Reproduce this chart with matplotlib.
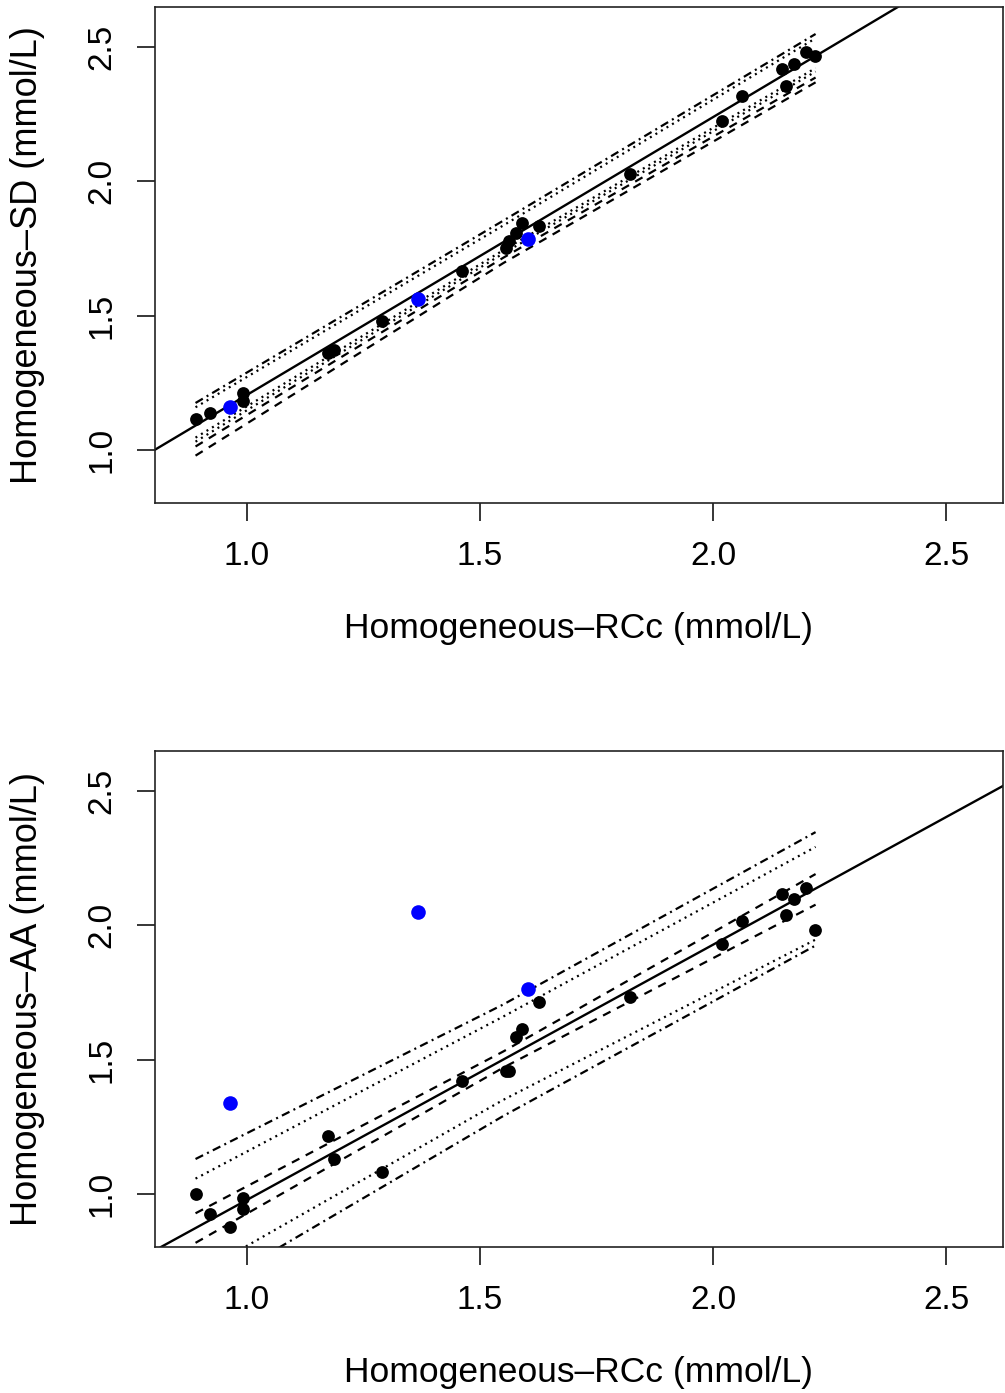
import matplotlib
matplotlib.use("Agg")
import matplotlib.pyplot as plt
import numpy as np

plt.rcParams['font.family'] = ['Liberation Sans', 'DejaVu Sans']

# Homogeneous-RCc (x), black samples, same for both panels
rcc = [0.891, 0.921, 0.964, 0.991, 0.991, 1.174, 1.186, 1.290, 1.461, 1.556, 1.563,
       1.577, 1.590, 1.627, 1.822, 2.019, 2.062, 2.148, 2.157, 2.174, 2.200, 2.219]
# Homogeneous-SD (top panel)
sd = [1.115, 1.138, 1.160, 1.212, 1.182, 1.361, 1.372, 1.480, 1.666, 1.751, 1.777,
      1.807, 1.844, 1.833, 2.026, 2.224, 2.316, 2.417, 2.354, 2.435, 2.480, 2.465]
# Homogeneous-AA (bottom panel)
aa = [1.000, 0.926, 0.877, 0.985, 0.944, 1.216, 1.130, 1.082, 1.420, 1.457, 1.457,
      1.584, 1.614, 1.714, 1.733, 1.930, 2.015, 2.116, 2.038, 2.097, 2.138, 1.982]

# highlighted samples (blue)
blue_rcc = [0.964, 1.367, 1.603]
blue_sd = [1.160, 1.562, 1.785]
blue_aa = [1.338, 2.049, 1.762]

# fitted lines (intercept, slope)
fit_sd = (0.171, 1.034)
fit_aa = (0.028, 0.950)

# band offsets from the fitted line, read at these x positions
band_x = [0.89, 1.55, 2.22]
bands_sd = [
    ("dashdot", [0.084, 0.080, 0.082]),
    ("dotted", [0.068, 0.062, 0.066]),
    ("dotted", [-0.045, -0.030, -0.045]),
    ("dotted", [-0.060, -0.042, -0.058]),
    ("dashed", [-0.078, -0.058, -0.080]),
    ("dashed", [-0.112, -0.078, -0.098]),
]
bands_aa = [
    ("dashdot", [0.257, 0.205, 0.210]),
    ("dotted", [0.184, 0.160, 0.155]),
    ("dashed", [0.055, 0.030, 0.054]),
    ("dashed", [-0.055, -0.030, -0.060]),
    ("dotted", [-0.175, -0.150, -0.190]),
    ("dashdot", [-0.255, -0.210, -0.212]),
]

line_styles = {
    "dashed": (0, (3.8, 3.2)),
    "dotted": (0, (0.9, 2.0)),
    "dashdot": (0, (3.8, 2.0, 0.9, 2.0)),
}

ticks = [1.0, 1.5, 2.0, 2.5]
xlabel = "Homogeneous\u2013RCc (mmol/L)"
ylabels = ["Homogeneous\u2013SD (mmol/L)", "Homogeneous\u2013AA (mmol/L)"]


def draw_panel(ax, y, blue_y, fit, bands, ylabel):
    a, b = fit
    ax.axline((0, a), slope=b, color="black", lw=1.7, zorder=2)
    bx = np.array(band_x)
    for style, off in bands:
        ax.plot(bx, a + b * bx + np.array(off), color="black", lw=1.6,
                linestyle=line_styles[style], zorder=2)
    ax.plot(rcc, y, "o", color="black", ms=9.2, mew=0, zorder=3)
    ax.plot(blue_rcc, blue_y, "o", color="#0000FF", ms=10.5, mew=0, zorder=4)

    ax.set_xlim(0.803, 2.622)
    ax.set_ylim(0.803, 2.649)
    ax.set_xticks(ticks)
    ax.set_yticks(ticks)
    ax.set_xticklabels(["%.1f" % t for t in ticks])
    ax.set_yticklabels(["%.1f" % t for t in ticks], rotation=90, va="center")
    ax.tick_params(length=13, width=1.1, labelsize=24, pad=14, color="black")
    for s in ax.spines.values():
        s.set_linewidth(1.2)
        s.set_color("#222222")

    ax.set_xlabel(xlabel, fontsize=25.5)
    ax.xaxis.set_label_coords(0.5, -0.252)
    ax.xaxis.label.set_va("center")
    ax.set_ylabel(ylabel, fontsize=26)
    ax.yaxis.set_label_coords(-0.1498, 0.5)
    ax.yaxis.label.set_va("center")


fig = plt.figure(figsize=(10.05, 13.93), dpi=100)
ax1 = fig.add_axes([0.1542, 0.6389, 0.8438, 0.3561])
ax2 = fig.add_axes([0.1542, 0.1048, 0.8438, 0.3561])

draw_panel(ax1, sd, blue_sd, fit_sd, bands_sd, ylabels[0])
draw_panel(ax2, aa, blue_aa, fit_aa, bands_aa, ylabels[1])

fig.savefig("out.png", dpi=100)
